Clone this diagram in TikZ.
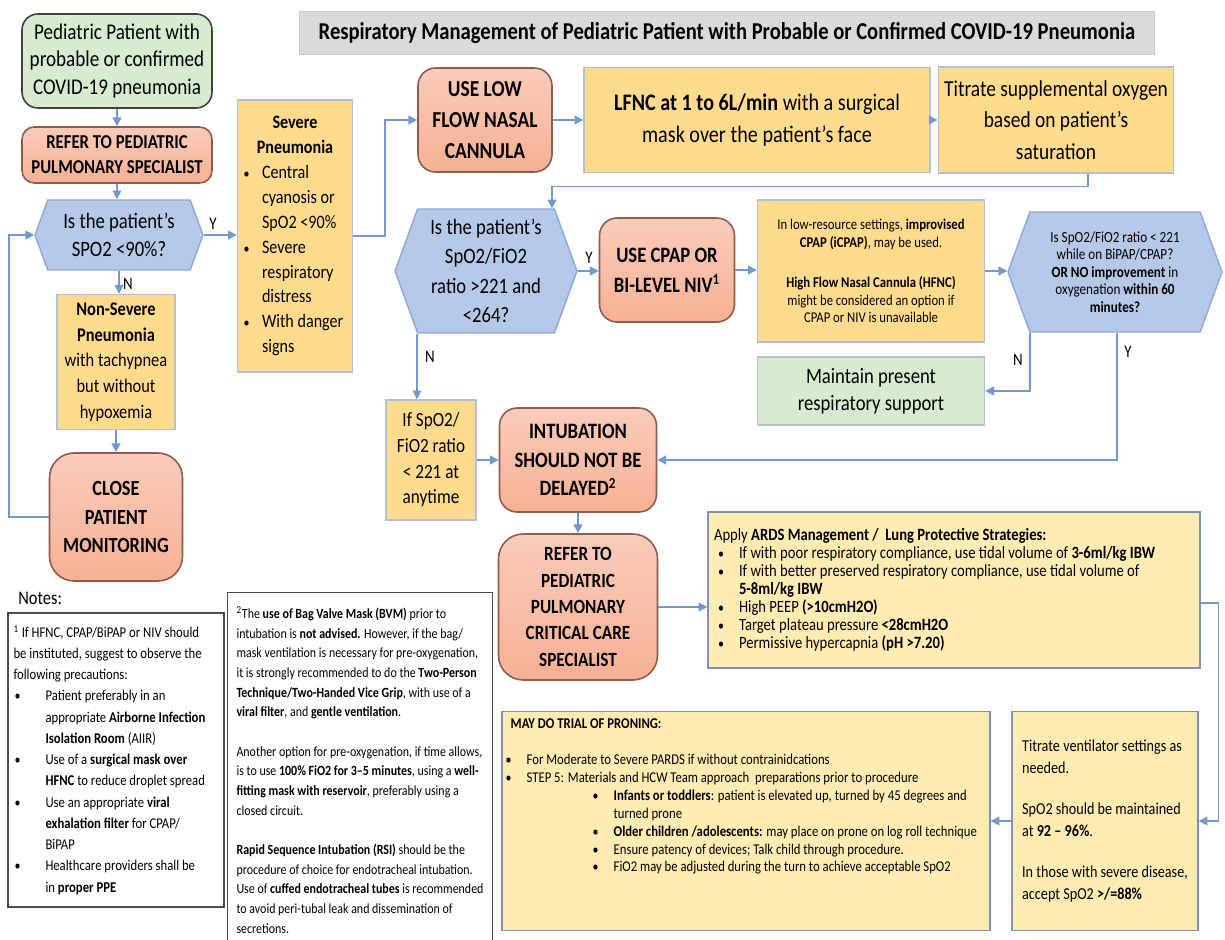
\documentclass[tikz,border=0pt]{standalone}
\usepackage{fontspec}
\setmainfont{Carlito}[FakeStretch=0.85]
\usepackage{enumitem}
\usetikzlibrary{arrows.meta,shapes.symbols}

\definecolor{greenfill}{RGB}{216,234,208}
\definecolor{salmonfill}{RGB}{246,176,148}
\definecolor{salmontop}{RGB}{250,204,186}
\definecolor{salmonline}{RGB}{140,92,78}
\definecolor{askfill}{RGB}{182,200,232}
\definecolor{askline}{RGB}{140,168,215}
\definecolor{infofill}{RGB}{255,219,142}
\definecolor{infoline}{RGB}{178,192,212}
\definecolor{carefill}{RGB}{255,236,178}
\definecolor{careline}{RGB}{125,145,178}
\definecolor{titlefill}{RGB}{218,218,218}
\definecolor{flowline}{RGB}{115,152,205}

\newcommand{\setfs}[2]{\fontsize{#1}{#2}\selectfont}
\setlist[itemize]{nosep, label={\footnotesize\textbullet}}

\begin{document}
\begin{tikzpicture}[x=0.02cm, y=-0.02cm,
  arr/.style={draw=flowline, line width=0.9pt, -{Triangle[length=5pt,width=5pt]}},
  startbox/.style={draw=black!75, fill=greenfill, rounded corners=9pt, line width=0.9pt, align=center},
  actbox/.style={draw=salmonline, top color=salmontop, bottom color=salmonfill, rounded corners=10pt, line width=0.9pt, align=center},
  infobox/.style={draw=infoline, fill=infofill, line width=0.8pt, align=center},
  carebox/.style={draw=careline, fill=carefill, line width=0.8pt, align=flush left},
  askbox/.style={shape=signal, signal to=west and east, signal pointer angle=140,
    draw=askline, fill=askfill, line width=0.8pt, align=center, inner sep=1pt},
  notebox/.style={draw=black!70, line width=1pt, fill=white},
  yn/.style={inner sep=1pt, font=\setfs{10}{12}}]
	% Page size
	\useasboundingbox (0,0) rectangle (1225,940);
	
	% Title
	\node[draw=black!20, fill=titlefill, minimum width=17.1cm, minimum height=0.86cm,
	  font=\setfs{13.8}{16}\bfseries] (title) at (727,33)
	  {Respiratory Management of Pediatric Patient with Probable or Confirmed COVID-19 Pneumonia};
	
	% Left column
	\node[startbox, minimum width=3.8cm, minimum height=1.88cm, font=\setfs{12.8}{15.9}] (start) at (117,61)
	  {Pediatric Patient with\\probable or confirmed\\COVID-19 pneumonia};
	\node[actbox, rounded corners=7pt, minimum width=3.8cm, minimum height=1.12cm, font=\setfs{11.2}{14.2}\bfseries] (refer1) at (117,155)
	  {REFER TO PEDIATRIC\\PULMONARY SPECIALIST};
	\node[askbox, minimum width=3.36cm, minimum height=1.4cm, font=\setfs{12.5}{15.9}] (hex1) at (119,235)
	  {Is the patient’s\\SPO2 <90\%?};
	\node[infobox, minimum width=2.36cm, minimum height=2.7cm, font=\setfs{11}{14.6}] (nonsev) at (116,362)
	  {\textbf{Non-Severe}\\\textbf{Pneumonia}\\with tachypnea\\but without\\hypoxemia};
	\node[actbox, rounded corners=14pt, minimum width=2.66cm, minimum height=2.56cm, font=\setfs{12.3}{16}\bfseries] (close) at (116,517)
	  {CLOSE\\PATIENT\\MONITORING};
	
	% Severe branch
	\node[infobox, align=flush left, inner sep=2pt, text width=2.16cm, minimum height=5.44cm, font=\setfs{10.8}{14.2}] (severe) at (295,236)
	  {{\centering\textbf{Severe\\Pneumonia}\par}
	   \begin{itemize}[leftmargin=0.42cm,labelsep=0.25cm]
	   \item Central\\cyanosis or\\SpO2 <90\%
	   \item Severe\\respiratory\\distress
	   \item With danger\\signs
	   \end{itemize}};
	\node[actbox, minimum width=2.68cm, minimum height=2.08cm, font=\setfs{13}{17.6}\bfseries] (lowflow) at (485,120)
	  {USE LOW\\FLOW NASAL\\CANNULA};
	\node[infobox, minimum width=6.92cm, minimum height=2.1cm, font=\setfs{13.5}{18}] (lfnc) at (757,120)
	  {\textbf{LFNC at 1 to 6L/min} with a surgical\\mask over the patient’s face};
	\node[infobox, minimum width=3.96cm, minimum height=2.12cm, font=\setfs{13}{18}] (titrate) at (1056,120)
	  {Titrate supplemental oxygen\\based on patient’s\\saturation};
	
	% Second row
	\node[askbox, minimum width=3.64cm, minimum height=2.48cm, font=\setfs{12.5}{16.7}] (hex2) at (486,271)
	  {Is the patient’s\\SpO2/FiO2\\ratio >221 and\\<264?};
	\node[actbox, minimum width=2.7cm, minimum height=2.08cm, font=\setfs{12.5}{17}\bfseries] (cpap) at (667,270)
	  {USE CPAP OR\\BI-LEVEL NIV\textsuperscript{1}};
	\node[infobox, minimum width=4.54cm, minimum height=2.84cm, font=\setfs{8.5}{9.9}] (cpapnote) at (871,271)
	  {In low-resource settings, \textbf{improvised}\\\textbf{CPAP (iCPAP)}, may be used.\\[13pt]
	   \textbf{High Flow Nasal Cannula (HFNC)}\\might be considered an option if\\CPAP or NIV is unavailable};
	\node[askbox, minimum width=4.28cm, minimum height=2.4cm, font=\setfs{8.8}{9.9}] (hex3) at (1115,272)
	  {Is SpO2/FiO2 ratio < 221\\while on BiPAP/CPAP?\\\textbf{OR NO improvement} in\\oxygenation \textbf{within 60}\\\textbf{minutes?}};
	\node[startbox, draw=infoline, rounded corners=0pt, minimum width=4.54cm, minimum height=1.36cm, font=\setfs{12.5}{15.3}] (maintain) at (871,391)
	  {Maintain present\\respiratory support};
	
	% Intubation path
	\node[infobox, minimum width=1.8cm, minimum height=2.4cm, font=\setfs{11.5}{14.6}] (ifbox) at (431,460)
	  {If SpO2/\\FiO2 ratio\\< 221 at\\anytime};
	\node[actbox, minimum width=3.14cm, minimum height=2.08cm, font=\setfs{12.5}{16.2}\bfseries] (intub) at (578,460)
	  {INTUBATION\\SHOULD NOT BE\\DELAYED\textsuperscript{2}};
	\node[actbox, rounded corners=14pt, minimum width=3.18cm, minimum height=2.92cm, font=\setfs{11.5}{15}\bfseries] (refer2) at (578,607)
	  {REFER TO\\PEDIATRIC\\PULMONARY\\CRITICAL CARE\\SPECIALIST};
	\node[carebox, text width=9.6cm, minimum height=3.12cm, font=\setfs{9.8}{10.3}] (ards) at (954,590)
	  {Apply \textbf{ARDS Management /\ \ Lung Protective Strategies:}
	   \begin{itemize}[leftmargin=0.5cm,labelsep=0.3cm]
	   \item If with poor respiratory compliance, use tidal volume of \textbf{3-6ml/kg IBW}
	   \item If with better preserved respiratory compliance, use tidal volume of\\\textbf{5-8ml/kg IBW}
	   \item High PEEP \textbf{(>10cmH2O)}
	   \item Target plateau pressure \textbf{<28cmH2O}
	   \item Permissive hypercapnia \textbf{(pH >7.20)}
	   \end{itemize}};
	\node[carebox, minimum width=9.76cm, minimum height=4.38cm] (prone) at (746,821) {};
	\node[anchor=north west, inner sep=0pt, align=flush left, text width=9.5cm, font=\setfs{8.5}{10.2}] (pronetext)
	  at ([shift={(9,8)}]prone.north west)
	  {\textbf{MAY DO TRIAL OF PRONING:}\\[10pt]
	   \begin{itemize}[leftmargin=0.32cm,labelsep=0.3cm]
	   \item For Moderate to Severe PARDS if without contrainidcations
	   \item STEP 5: Materials and HCW Team approach\ \ preparations prior to procedure
	     \begin{itemize}[leftmargin=1.74cm,labelsep=0.3cm]
	     \item \textbf{Infants or toddlers}: patient is elevated up, turned by 45 degrees and\\turned prone
	     \item \textbf{Older children /adolescents:} may place on prone on log roll technique
	     \item Ensure patency of devices; Talk child through procedure.
	     \item FiO2 may be adjusted during the turn to achieve acceptable SpO2
	     \end{itemize}
	   \end{itemize}};
	\node[carebox, minimum width=3.72cm, minimum height=4.38cm, font=\setfs{9.5}{12.5}] (vent) at (1105,821)
	  {Titrate ventilator settings as\\needed.\\[11pt]SpO2 should be maintained\\at \textbf{92 – 96\%}.\\[11pt]
	   In those with severe disease,\\accept SpO2 \textbf{>/=88\%}};
	
	% Notes
	\node[anchor=west, inner sep=0pt, font=\setfs{11}{13}] (noteshead) at (18,598) {Notes:};
	\node[notebox, align=flush left, inner sep=3pt, text width=4.1cm, minimum height=5.88cm, font=\setfs{8.5}{12.1}] (notes1) at (116,760)
	  {\textsuperscript{1} If HFNC, CPAP/BiPAP or NIV should\\be instituted, suggest to observe the\\following precautions:
	   \begin{itemize}[leftmargin=0.64cm,labelsep=0.5cm]
	   \item Patient preferably in an\\appropriate \textbf{Airborne Infection}\\\textbf{Isolation Room} (AIIR)
	   \item Use of a \textbf{surgical mask over}\\\textbf{HFNC} to reduce droplet spread
	   \item Use an appropriate \textbf{viral}\\\textbf{exhalation filter} for CPAP/\\BiPAP
	   \item Healthcare providers shall be\\in \textbf{proper PPE}
	   \end{itemize}};
	\node[notebox, align=left, minimum width=5.3cm, minimum height=7.1cm, font=\setfs{8}{11.2}] (notes2) at (360,770)
	  {\textsuperscript{2}The \textbf{use of Bag Valve Mask (BVM)} prior to\\
	   intubation is \textbf{not advised.} However, if the bag/\\
	   mask ventilation is necessary for pre-oxygenation,\\
	   it is strongly recommended to do the \textbf{Two-Person}\\
	   \textbf{Technique/Two-Handed Vice Grip}, with use of a\\
	   \textbf{viral filter}, and \textbf{gentle ventilation}.\\[11.2pt]
	   Another option for pre-oxygenation, if time allows,\\
	   is to use \textbf{100\% FiO2 for 3–5 minutes}, using a \textbf{well-}\\
	   \textbf{fitting mask with reservoir}, preferably using a\\
	   closed circuit.\\[11.2pt]
	   \textbf{Rapid Sequence Intubation (RSI)} should be the\\
	   procedure of choice for endotracheal intubation.\\
	   Use of \textbf{cuffed endotracheal tubes} is recommended\\
	   to avoid peri-tubal leak and dissemination of\\
	   secretions.};
	
	% Connectors, left column
	\draw[arr] (start.south) -- (refer1.north);
	\draw[arr] (refer1.south) -- (refer1.south |- hex1.north);
	\draw[arr] (hex1.east) -- (hex1.east -| severe.west);
	\draw[arr] (hex1.south) -- (hex1.south |- nonsev.north);
	\draw[arr] (nonsev.south) -- (nonsev.south |- close.north);
	\draw[arr] (close.west) -- ++(-40,0) |- (hex1.west);
	\node[yn] (y1) at (213,224) {Y};
	\node[yn] (n1) at (128,284) {N};
	
	% Connectors, oxygen path
	\draw[arr] (severe.east) -- ++(32,0) |- (lowflow.west);
	\draw[arr] (lowflow.east) -- (lowflow.east -| lfnc.west);
	\draw[arr] (lfnc.east) -- (lfnc.east -| titrate.west);
	\draw[arr] ([xshift=0.64cm]titrate.south) -- ++(0,13) -| ([xshift=1.32cm]hex2.north);
	\draw[arr] (hex2.east) -- (hex2.east -| cpap.west);
	\draw[arr] (cpap.east) -- (cpap.east -| cpapnote.west);
	\draw[arr] (cpapnote.east) -- (cpapnote.east -| hex3.west);
	\draw[arr] ([xshift=-1.7cm]hex3.south) |- (maintain.east);
	\draw[arr] ([xshift=0.04cm]hex3.south) |- (intub.east);
	\draw[arr] ([xshift=-1.38cm]hex2.south) -- ([xshift=-1.38cm]hex2.south |- ifbox.north);
	\node[yn] (y2) at (589,258) {Y};
	\node[yn] (n2) at (430,357) {N};
	\node[yn] (n3) at (1018,360) {N};
	\node[yn] (y3) at (1128,352) {Y};
	
	% Connectors, intubation path
	\draw[arr] (ifbox.east) -- (ifbox.east -| intub.west);
	\draw[arr] (intub.south) -- (intub.south |- refer2.north);
	\draw[arr] (refer2.east) -- (refer2.east -| ards.west);
	\draw[arr] ([yshift=-0.26cm]ards.east) -- ++(18,0) |- (vent.east);
	\draw[arr] (vent.west) -- (vent.west -| prone.east);
	
\end{tikzpicture}
\end{document}
